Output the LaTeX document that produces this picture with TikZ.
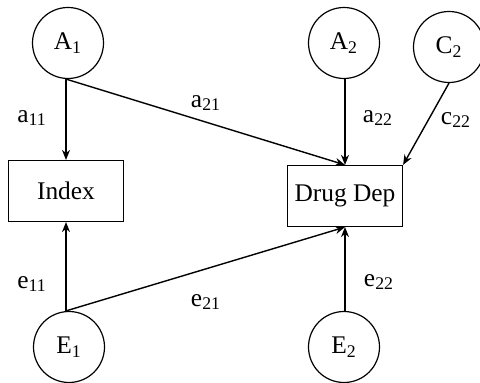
\documentclass[tikz,border=0pt]{standalone}
\usepackage{fontspec}
\setmainfont{Liberation Serif}
\usetikzlibrary{arrows.meta}
\tikzset{
  latent/.style={draw, circle, line width=0.6pt, minimum size=35.5pt, inner sep=0pt},
  observed/.style={draw, rectangle, line width=0.6pt, minimum width=57.5pt, minimum height=30.5pt, inner sep=0pt},
  path/.style={line width=0.7pt, -{Stealth[length=5pt,width=4pt]}},
  coef/.style={inner sep=0pt},
}
\begin{document}
\begin{tikzpicture}[x=0.5pt, y=-0.5pt, font=\fontsize{12.7}{15}\selectfont]
\useasboundingbox (0,0) rectangle (480,383);
% latent factors
\node[latent] (A1) at (68,43) {A\textsubscript{1}};
\node[latent] (A2) at (344,43) {A\textsubscript{2}};
\node[latent] (C2) at (449,47) {C\textsubscript{2}};
\node[latent] (E1) at (69,347) {E\textsubscript{1}};
\node[latent] (E2) at (344,347) {E\textsubscript{2}};
% observed measures
\node[observed] (Idx) at (66,191) {Index};
\node[observed] (DD) at (345,196) {Drug Dep};
% paths
\draw[path] (A1.south -| Idx.north) -- (Idx.north);
\draw[path] (A1.south -| Idx.north) -- (DD.north);
\draw[path] (A2.south -| DD.north) -- (DD.north);
\draw[path] (C2.south) -- (DD.north east);
\draw[path] (E1.north -| Idx.south) -- (Idx.south);
\draw[path] (E1.north -| Idx.south) -- (DD.south);
\draw[path] (E2.north -| DD.south) -- (DD.south);
% path coefficients
\node[coef] (la11) at (32,118) {a\textsubscript{11}};
\node[coef] (la21) at (206,103) {a\textsubscript{21}};
\node[coef] (la22) at (378,118) {a\textsubscript{22}};
\node[coef] (lc22) at (456,120) {c\textsubscript{22}};
\node[coef] (le11) at (32,284) {e\textsubscript{11}};
\node[coef] (le21) at (206,302) {e\textsubscript{21}};
\node[coef] (le22) at (379,282) {e\textsubscript{22}};
\end{tikzpicture}
\end{document}
